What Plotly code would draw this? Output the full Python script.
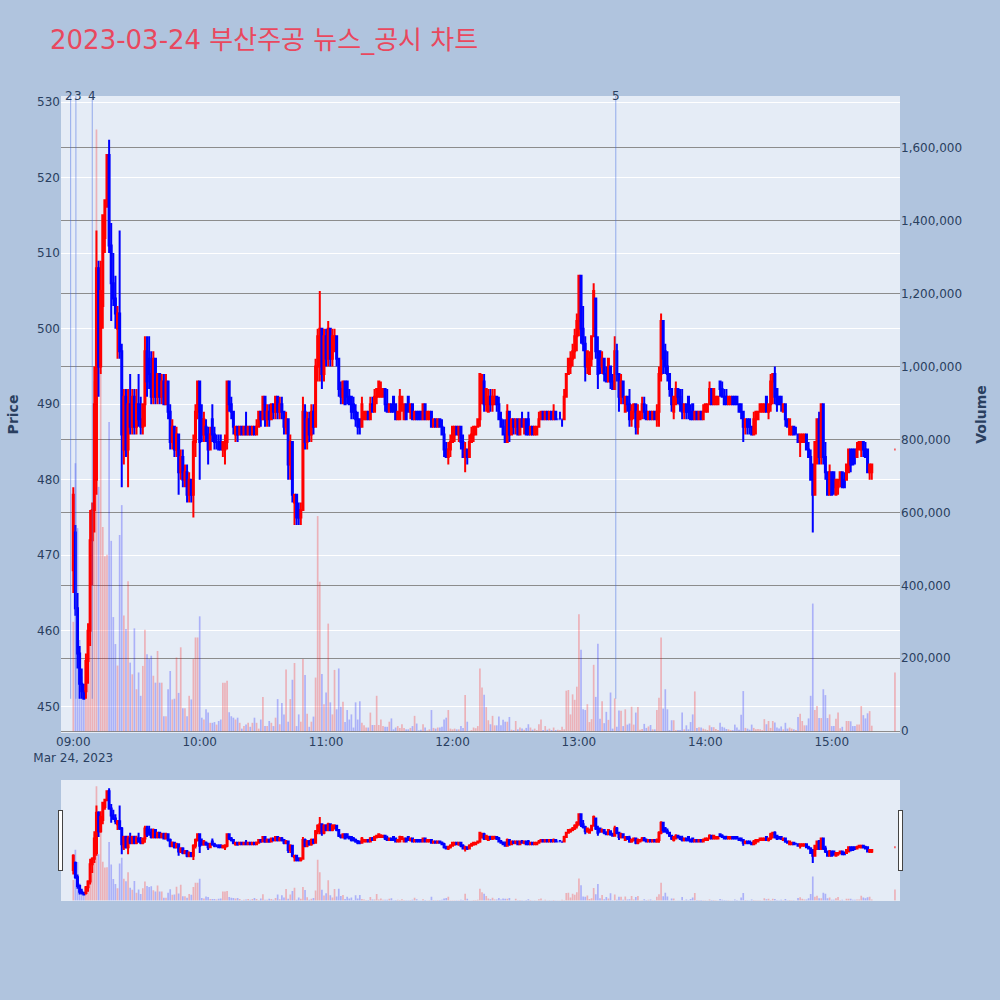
import pandas as pd
import plotly.graph_objects as go
from plotly.subplots import make_subplots

TITLE = "2023-03-24 부산주공 뉴스_공시 차트"
DAY = "2023-03-24"

# ---- 1-minute candles, hour by hour (KRW) ----
open_09 = [468,473,463,457,453,452,452,456,460,472, 476,480,508,495,503,512,517,523,511,506,
           504,500,502,497,484,491,484,490,487,491, 487,490,488,487,490,497,496,494,491,496,
           491,494,491,493,490,493,489,485,487,484, 486,481,483,480,481,478,480,478,485,489]
high_09 = [479,474,465,458,455,453,457,461,476,477, 495,513,509,509,515,517,523,525,514,510,
           507,503,513,498,492,492,492,494,492,492, 492,494,491,490,499,499,499,497,497,496,
           494,494,494,494,494,493,490,488,487,487, 486,484,484,482,482,481,480,486,490,493]
low_09 = [465,462,455,451,451,451,451,453,458,466, 473,478,491,494,500,510,516,510,501,503,
          500,496,496,479,482,483,479,486,486,486, 486,487,486,486,487,491,492,490,490,490,
          490,490,490,490,490,488,484,484,483,483, 478,480,479,479,477,477,477,475,483,488]
close_09 = [478,463,457,453,452,451,456,460,472,476, 490,508,495,505,515,517,523,511,506,504,
            502,502,497,486,491,484,490,487,491,487, 490,488,487,490,497,493,494,491,496,491,
            494,491,493,490,493,489,485,487,484,486, 481,483,480,481,478,480,478,485,489,493]
vol_09 = [300,735,557,250,150,90,130,250,420,600, 960,1650,670,990,560,480,484,848,522,313,
          239,180,538,620,317,280,411,188,156,282, 115,161,97,179,278,211,198,207,152,133,
          220,133,133,41,41,115,165,87,89,202, 105,230,63,63,41,97,87,198,257,257]

open_10 = [493,488,486,487,486,484,488,486,485,485, 485,484,484,485,493,490,489,486,487,486,
           487,486,487,486,487,486,487,486,487,489, 488,491,488,489,488,490,489,491,489,490,
           489,487,488,482,485,477,478,476,475,476, 489,485,488,486,489,487,495,495,500,494]
high_10 = [493,490,489,488,487,487,490,487,486,486, 486,485,486,493,493,491,489,487,487,487,
           487,487,489,487,487,487,487,488,489,489, 491,491,490,490,490,490,491,491,491,491,
           489,489,488,486,485,478,478,477,477,491, 490,489,489,490,490,496,500,505,500,500]
low_10 = [480,485,485,485,482,484,485,484,484,484, 484,483,482,484,489,488,486,485,485,486,
          486,486,486,486,486,486,486,486,487,487, 488,487,487,487,488,488,488,488,488,488,
          486,486,480,480,477,474,474,474,474,476, 484,484,485,485,486,487,493,493,492,493]
close_10 = [485,486,488,486,484,486,486,485,485,484, 484,485,485,493,490,489,487,487,486,487,
            486,487,486,487,486,487,486,487,489,488, 491,488,489,488,490,489,491,489,490,489,
            487,488,482,485,478,478,475,475,476,489, 485,488,486,489,487,495,499,500,494,499]
vol_10 = [315,37,32,60,51,23,23,25,18,28, 32,133,133,138,52,41,37,32,37,23,
          7,14,18,23,12,23,37,23,7,32, 94,14,14,28,23,14,37,88,19,77,
          46,169,26,88,141,187,14,46,26,198, 154,48,12,26,40,147,590,410,157,74]

open_11 = [499,496,500,496,497,499,496,492,491,493, 493,491,491,490,489,488,488,487,488,488,
           489,488,490,489,491,491,491,491,492,490, 489,490,491,490,488,488,490,488,490,491,
           489,490,488,489,489,489,488,490,488,488, 489,487,488,487,488,487,486,484,483,484]
high_11 = [500,501,500,500,500,499,496,493,493,493, 493,492,491,491,490,489,488,491,489,489,
           489,491,491,492,492,493,493,492,492,492, 490,490,491,490,489,492,491,490,490,491,
           490,490,489,489,489,489,490,490,489,489, 489,488,488,488,488,488,487,485,485,486]
low_11 = [495,495,495,495,497,495,491,490,490,490, 490,490,488,488,487,486,486,487,488,488,
          488,488,489,489,490,491,491,491,489,489, 489,489,489,488,488,488,489,488,488,489,
          488,488,488,488,488,488,488,488,488,488, 487,487,487,487,487,486,483,483,482,483]
close_11 = [496,500,496,499,499,496,492,491,493,490, 491,490,489,489,488,487,487,490,489,489,
            488,490,489,491,492,493,492,492,490,489, 490,489,489,488,489,491,491,490,488,489,
            490,488,489,488,488,488,490,488,489,489, 487,488,487,488,487,486,484,483,484,485]
vol_11 = [106,295,79,46,168,60,172,67,81,25, 58,32,46,10,79,32,82,23,16,10,
          10,51,17,17,97,17,32,14,12,12, 26,35,5,10,14,9,19,9,5,5,
          9,14,42,21,2,4,19,10,2,5, 58,9,7,10,10,12,32,37,58,7]

open_12 = [485,486,487,486,487,485,483,484,483,485, 486,486,487,488,492,493,490,489,491,490,
           490,491,490,488,487,486,485,489,486,488, 487,488,486,488,487,488,488,486,487,486,
           486,487,488,489,488,489,488,489,488,489, 488,488,488,488,491,494,495,496,497,499]
high_12 = [487,487,487,487,487,486,485,484,486,487, 487,487,488,494,494,494,492,492,492,492,
           492,491,491,489,488,488,490,489,488,488, 488,488,488,489,488,488,489,487,487,487,
           487,489,489,489,489,489,489,489,490,489, 488,489,488,492,494,496,497,498,500,502]
low_12 = [485,485,486,485,484,483,481,482,483,485, 485,486,487,487,490,489,489,489,489,489,
          490,489,488,487,486,485,485,485,486,486, 486,486,486,487,486,486,486,486,486,486,
          486,487,488,488,488,488,488,488,488,488, 488,488,487,488,491,494,494,495,496,497]
close_12 = [487,487,486,487,485,483,484,483,485,486, 487,487,488,494,493,490,492,491,490,491,
            491,490,488,487,486,485,489,486,488,487, 488,486,488,487,488,486,486,487,486,487,
            487,488,489,488,489,488,489,488,489,488, 488,488,488,491,494,496,496,497,499,501]
vol_12 = [5,7,5,5,14,9,99,26,1,3, 10,8,14,172,120,100,66,30,19,42,
          16,16,40,16,31,26,26,39,4,3, 28,5,10,7,4,9,19,10,4,7,
          3,19,32,3,14,4,7,3,10,3, 4,3,12,5,111,113,46,101,86,122]

open_13 = [501,507,500,498,495,494,496,499,504,497, 497,495,496,494,493,495,493,492,497,494,
           491,493,489,491,490,488,489,490,487,488, 489,490,489,488,489,488,489,488,489,494,
           501,497,495,494,492,489,490,492,491,490, 489,490,491,489,490,488,489,488,489,488]
high_13 = [507,507,503,499,497,497,499,506,504,499, 497,497,496,495,496,495,494,499,498,494,
           494,493,491,491,492,490,490,490,490,489, 491,491,490,489,489,489,489,490,495,502,
           501,498,497,494,492,491,493,492,492,492, 490,490,491,490,490,489,489,489,489,490]
low_13 = [499,498,497,493,494,494,495,499,496,492, 494,494,493,493,493,492,492,492,493,489,
          490,490,489,489,487,487,488,486,486,488, 488,488,488,488,488,488,488,487,487,493,
          494,494,493,491,489,488,490,490,489,488, 488,488,488,488,488,488,488,488,488,488]
close_13 = [507,500,498,495,497,496,499,505,497,494, 495,496,494,493,496,493,492,497,494,491,
            493,491,491,490,488,489,490,487,489,489, 490,489,488,489,488,489,488,489,494,501,
            496,495,494,492,490,491,492,491,490,489, 490,489,489,488,488,489,488,489,488,489]
vol_13 = [321,223,60,58,74,25,33,182,94,240, 34,82,22,53,31,106,7,90,12,57,
          56,14,60,18,21,67,18,51,66,4, 6,20,9,13,17,5,5,58,92,257,
          62,115,60,3,30,30,3,3,3,51, 5,16,5,25,46,109,9,11,10,7]

open_14 = [489,489,490,492,490,490,490,493,492,491, 491,490,490,491,491,491,490,490,489,487,
           488,488,487,486,488,488,489,489,489,491, 489,490,493,494,492,491,491,489,490,488,
           486,486,487,486,486,485,485,485,486,484, 483,482,478,483,488,483,490,483,481,478]
high_14 = [490,490,493,492,492,491,491,493,493,492, 492,491,491,491,491,491,490,490,489,488,
           488,488,487,489,489,489,490,490,490,491, 490,494,494,495,492,491,491,490,490,488,
           488,487,487,487,486,486,486,486,486,485, 484,482,485,488,489,490,490,485,481,482]
low_14 = [489,489,490,490,490,490,490,491,491,490, 490,490,490,490,490,490,489,488,485,486,
          486,486,486,486,486,488,489,489,489,489, 488,489,490,490,489,490,489,489,487,487,
          486,486,486,486,485,483,485,485,484,483, 480,473,478,482,482,482,482,480,478,478]
close_14 = [490,490,492,490,492,491,491,492,491,490, 490,491,491,490,490,490,489,489,487,488,
            487,487,486,488,489,489,490,490,490,489, 490,493,494,491,490,490,490,490,488,487,
            488,487,486,486,485,486,486,486,484,483, 480,478,485,488,483,490,483,481,478,481]
vol_14 = [5,3,16,11,11,6,3,23,12,10, 6,5,3,3,18,10,4,45,110,9,
          7,4,18,9,5,6,5,3,33,19, 28,9,28,24,10,7,13,5,23,7,
          10,7,5,3,39,48,28,16,16,35, 97,350,58,69,36,36,115,99,36,46]

# 15:00 - 15:19, then the 15:30 closing auction
open_15 = [481,481,478,479,480,481,480,480,481,484, 484,484,483,484,484,485,484,484,481,481, 484]
high_15 = [481,481,480,480,481,481,481,482,484,484, 484,484,485,485,485,485,485,484,482,482, 484]
low_15 = [478,478,478,478,479,479,479,480,481,481, 482,482,483,484,483,483,483,481,480,480, 484]
close_15 = [478,479,480,480,481,479,479,482,484,482, 482,483,484,485,485,484,483,481,482,482, 484]
vol_15 = [14,14,34,51,8,12,1,28,28,27, 14,14,18,18,69,44,35,49,55,15, 161]

# news / disclosure markers
news_labels = ["2", "3", "4", "5"]
news_times = [f"{DAY} 08:58:45", f"{DAY} 09:01:15", f"{DAY} 09:09:00", f"{DAY} 13:17:30"]

# ---- assemble ----
opens = open_09 + open_10 + open_11 + open_12 + open_13 + open_14 + open_15
highs = high_09 + high_10 + high_11 + high_12 + high_13 + high_14 + high_15
lows = low_09 + low_10 + low_11 + low_12 + low_13 + low_14 + low_15
closes = close_09 + close_10 + close_11 + close_12 + close_13 + close_14 + close_15
volumes = [v * 1000 for v in (vol_09 + vol_10 + vol_11 + vol_12 + vol_13 + vol_14 + vol_15)]

times = list(pd.date_range(f"{DAY} 09:00", f"{DAY} 15:19", freq="1min")) + [pd.Timestamp(f"{DAY} 15:30")]
df = pd.DataFrame({"time": times, "open": opens, "high": highs, "low": lows,
                   "close": closes, "volume": volumes})

# bar colour follows candle direction (flat candles use the previous close)
colors = []
prev_c = None
for o, c in zip(df["open"], df["close"]):
    up = c > o or (c == o and prev_c is not None and c >= prev_c)
    colors.append("rgba(255,0,0,0.25)" if up else "rgba(0,0,255,0.25)")
    prev_c = c

X_RANGE = [f"{DAY} 08:54:10", f"{DAY} 15:32:24"]
PRICE_RANGE = [446.47, 530.8]
VOL_RANGE = [-5000, 1742000]
FONT = "DejaVu Sans, Verdana, sans-serif"

fig = make_subplots(specs=[[{"secondary_y": True}]])
fig.add_trace(go.Candlestick(
    x=df["time"], open=df["open"], high=df["high"], low=df["low"], close=df["close"],
    increasing=dict(line=dict(color="red", width=2), fillcolor="red"),
    decreasing=dict(line=dict(color="blue", width=2), fillcolor="blue"),
    name="Price", showlegend=False), secondary_y=False)
fig.add_trace(go.Bar(
    x=df["time"], y=df["volume"], marker=dict(color=colors, line=dict(width=0)),
    name="Volume", showlegend=False), secondary_y=True)

# marker labels that sit within a few minutes of each other are nudged apart
news_ts = [pd.Timestamp(t) for t in news_times]
line_bottom = min(lows)
for i, (lab, t) in enumerate(zip(news_labels, news_ts)):
    shift = 0
    if i + 1 < len(news_ts) and (news_ts[i + 1] - t) < pd.Timedelta(minutes=4):
        shift -= 2
    if i > 0 and (t - news_ts[i - 1]) < pd.Timedelta(minutes=4):
        shift += 2
    fig.add_shape(type="line", xref="x", yref="y", x0=t, x1=t,
                  y0=line_bottom, y1=PRICE_RANGE[1],
                  line=dict(color="rgba(65,105,225,0.5)", width=1))
    fig.add_annotation(x=t, xref="x", y=1, yref="paper", yanchor="middle",
                       text=lab, showarrow=False, xshift=shift,
                       font=dict(size=12, color="#2a3f5f"))

fig.update_layout(
    width=1000, height=1000,
    font=dict(family=FONT),
    paper_bgcolor="#B0C4DE", plot_bgcolor="#E5ECF6",
    margin=dict(l=61, r=100, t=96, b=100),
    title=dict(text=TITLE, x=0.05, xanchor="left", y=0.96, yanchor="middle",
               font=dict(size=26, color="#E9485E",
                         family="DejaVu Sans, Noto Sans CJK KR, sans-serif")),
    showlegend=False,
    bargap=0.2,
)
fig.update_xaxes(type="date", range=X_RANGE, domain=[0, 1], showgrid=False, automargin=False,
                 rangeslider=dict(visible=True, thickness=0.15, range=X_RANGE,
                                  bgcolor="#E5ECF6"))
fig.update_yaxes(range=PRICE_RANGE, dtick=10, showgrid=True, gridcolor="white",
                 title=dict(text="<b>Price</b>", font=dict(size=14)),
                 automargin=False, secondary_y=False)
fig.update_yaxes(range=VOL_RANGE, tick0=0, dtick=200000, tickformat=",",
                 showgrid=True, gridcolor="#8c8c8c", zeroline=False,
                 title=dict(text="<b>Volume</b>", font=dict(size=14)),
                 automargin=False, secondary_y=True)

fig.write_html("out.html", config={"displayModeBar": False},
               post_script="document.body.style.margin='0';")
